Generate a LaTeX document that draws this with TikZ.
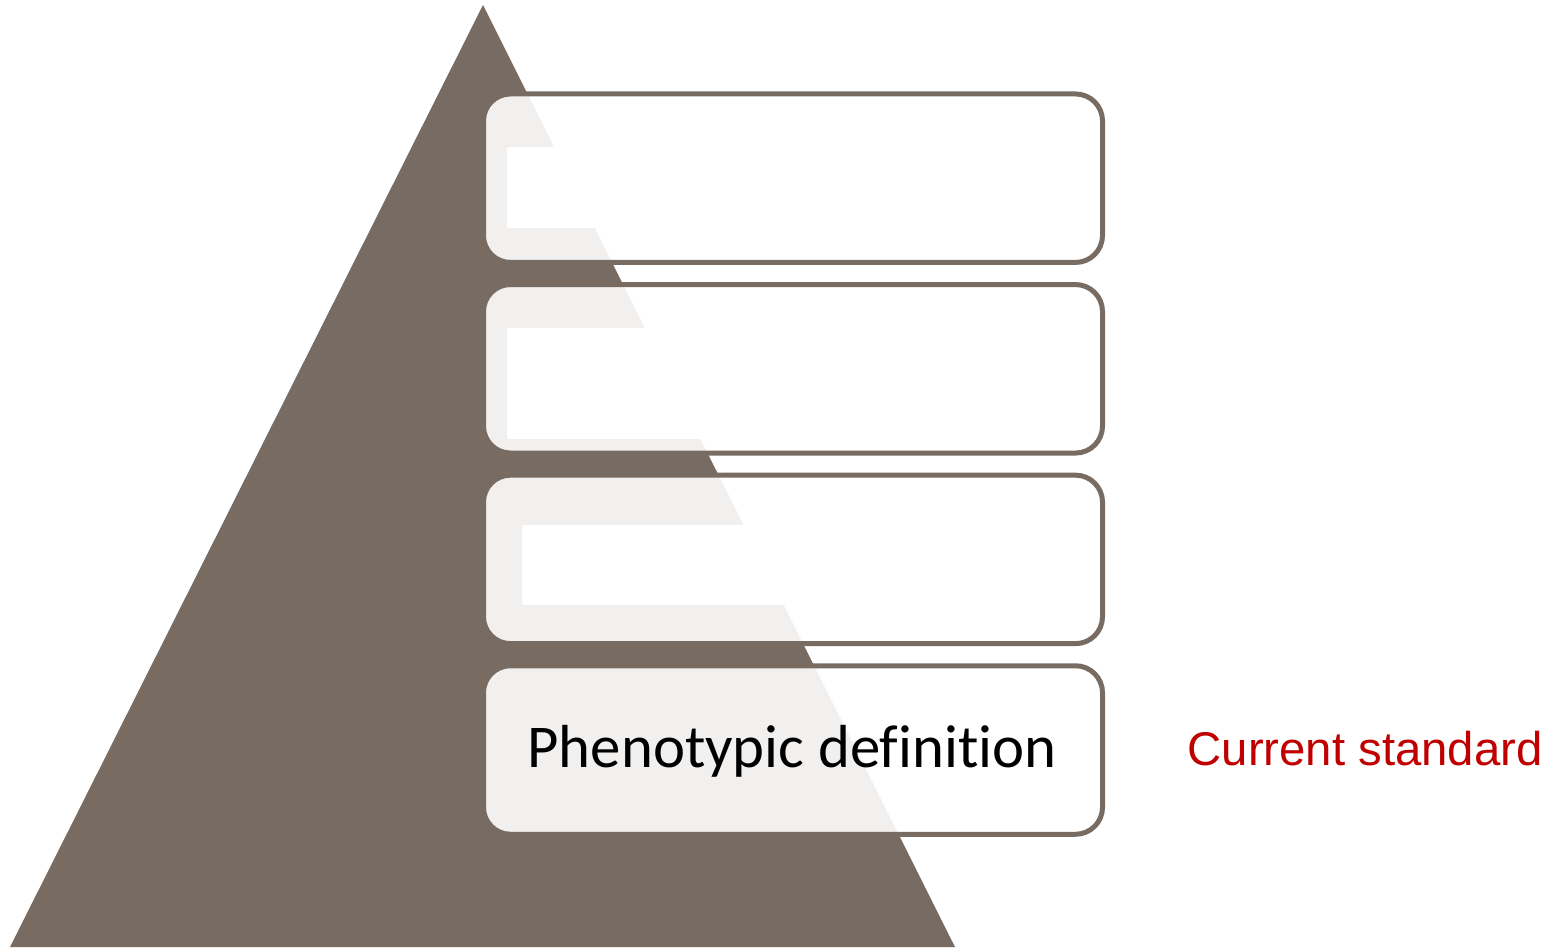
\documentclass[tikz,border=0pt]{standalone}
\usepackage{fontspec}
\setmainfont[Ligatures={NoCommon,NoDiscretionary,NoContextual,NoRequired}]{Carlito}
\newfontfamily\arialfont{Liberation Sans}
\definecolor{pyrbrown}{HTML}{786B62}
\definecolor{stdred}{HTML}{C00000}
\begin{document}
\begin{tikzpicture}[x=1bp,y=-1bp,
  tier/.style={draw=pyrbrown, line width=5bp, fill=white, fill opacity=0.9,
    rounded corners=27bp, minimum width=619bp, minimum height=168.5bp,
    inner sep=0pt, outer sep=0pt, text opacity=1},
  slot/.style={fill=white, rounded corners=2bp},
  tiertext/.style={font=\fontsize{61}{70}\selectfont, text=black, anchor=base},
  sidetext/.style={font=\arialfont\fontsize{47.5}{55}\selectfont, text=stdred, anchor=base west}]
\useasboundingbox (0,0) rectangle (1560,947);
% pyramid
\fill[pyrbrown] (483,5) -- (955,947) -- (10,947) -- cycle;
% tiers
\node[tier] (t1) at (793,178.2) {};
\node[tier] (t2) at (793,368.8) {};
\node[tier] (t3) at (793,559.4) {};
\node[tier] (t4) at (793,750) {};
% empty text slots
\fill[slot] (507,147) rectangle (1079,228);
\fill[slot] (507,328) rectangle (1079,439);
\fill[slot] (522,525) rectangle (1064,605);
% labels
\node[tiertext] (lab4) at (792,767) {Phenotypic definition};
\node[sidetext] (std) at (1184,765) {Current standard};
\end{tikzpicture}
\end{document}
